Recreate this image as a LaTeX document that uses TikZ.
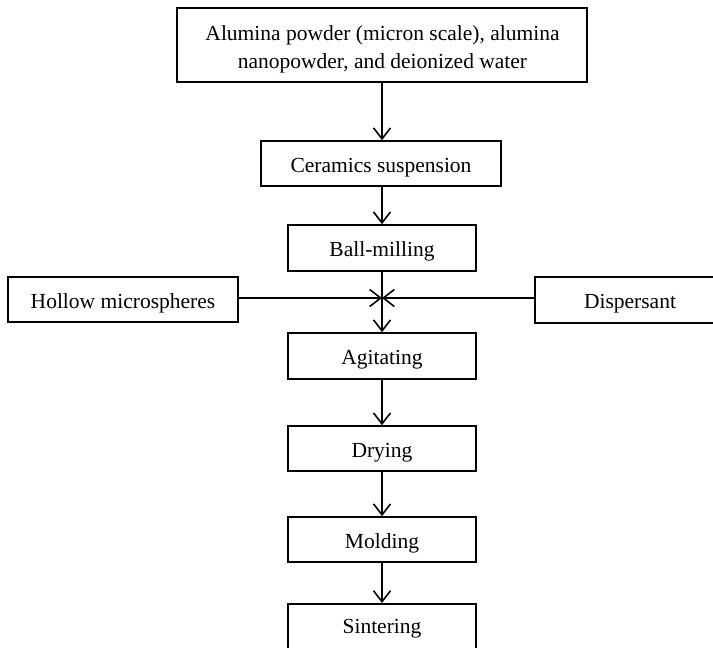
\documentclass[tikz,border=0pt]{standalone}
\usepackage{fontspec}
\setmainfont{Liberation Serif}
\usetikzlibrary{arrows.meta}
\begin{document}
\begin{tikzpicture}[x=1pt,y=-1pt,
  box/.style={draw,line width=1.6pt,inner sep=0pt,font=\fontsize{21.5}{28}\selectfont,align=center},
  one/.style={text height=17pt,text depth=0pt},
  conn/.style={line width=1.6pt,-{Straight Barb[length=11pt,width=17pt,line width=1.6pt]}}]
\useasboundingbox (0,0) rectangle (713,648);
\clip (0,0) rectangle (713,648);
\node[box,minimum width=410pt,minimum height=74pt] (raw) at (382,45) {};
\node[font=\fontsize{21.5}{28}\selectfont,align=center,inner sep=0pt,text height=17pt,text depth=0pt,anchor=north] (rawt) at (382.5,51) {Alumina powder (micron scale), alumina\\nanopowder, and deionized water};
\node[box,one,minimum width=240pt,minimum height=45pt] (cer) at (381,163.5) {Ceramics suspension};
\node[box,one,minimum width=188pt,minimum height=46pt] (ball) at (382,248) {Ball-milling};
\node[box,one,minimum width=230pt,minimum height=45pt] (hol) at (123,299.5) {Hollow microspheres};
\node[box,minimum width=190pt,minimum height=46pt] (dis) at (630,300) {};
\node[font=\fontsize{21.5}{28}\selectfont,inner sep=0pt,one] (dist) at (630,300) {Dispersant};
\node[box,one,minimum width=188pt,minimum height=46pt] (agi) at (382,356) {Agitating};
\node[box,one,minimum width=188pt,minimum height=45pt] (dry) at (382,448.5) {Drying};
\node[box,one,minimum width=188pt,minimum height=45pt] (mol) at (382,539.5) {Molding};
\node[box,minimum width=188pt,minimum height=60pt,anchor=north] (sin) at (382,603) {};
\node[font=\fontsize{21.5}{28}\selectfont,inner sep=0pt,one] (sint) at (382,625) {Sintering};
\coordinate (j) at (382,298);
\draw[conn] (raw.south -| ball) -- (cer.north -| ball);
\draw[conn] (cer.south -| ball) -- (ball.north);
\draw[conn] (ball.south) -- (agi.north);
\draw[conn] (hol.east |- j) -- (j);
\draw[conn] (dis.west |- j) -- (j);
\draw[conn] (agi) -- (dry);
\draw[conn] (dry) -- (mol);
\draw[conn] (mol) -- (sin);
\end{tikzpicture}
\end{document}
